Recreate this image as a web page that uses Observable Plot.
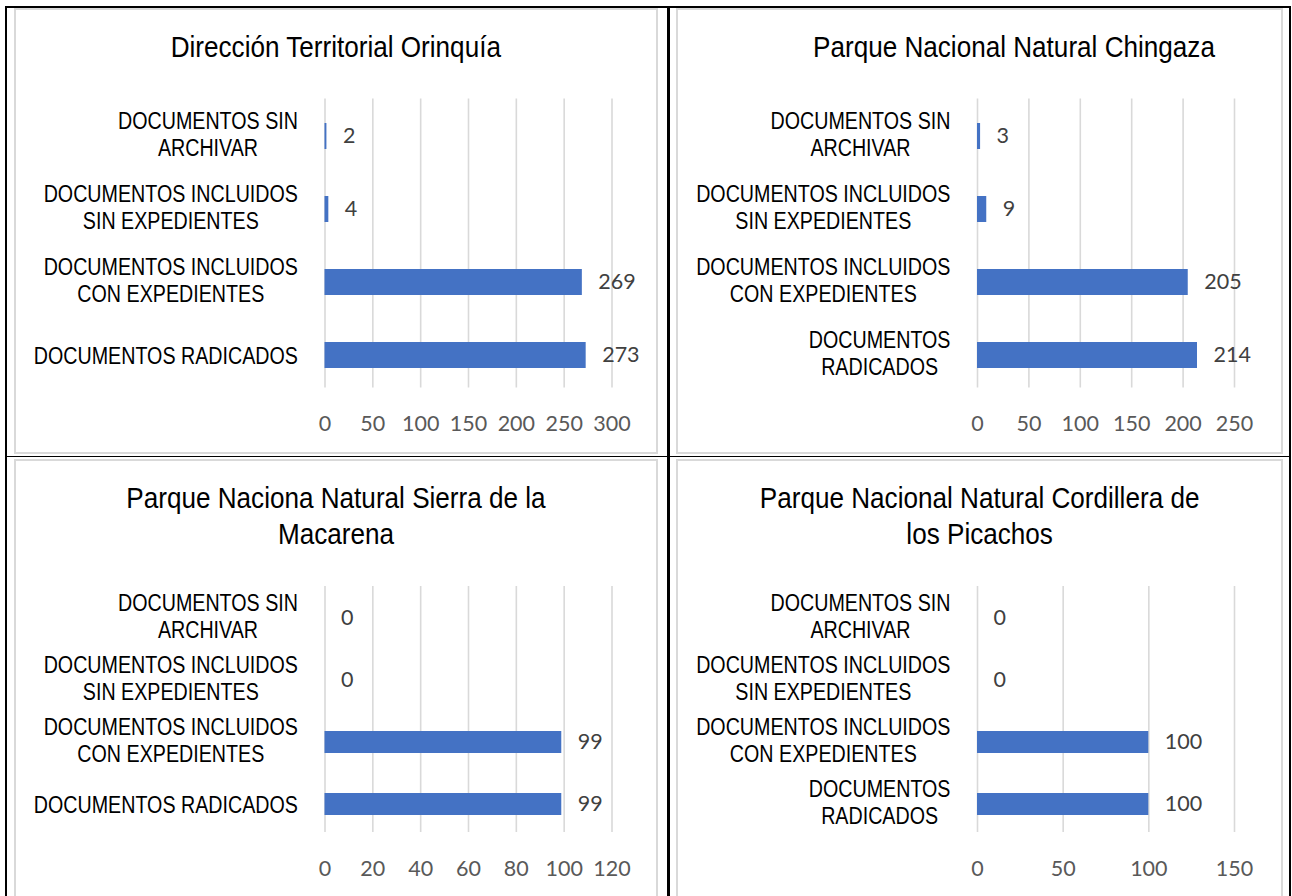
<!DOCTYPE html>
<html>
<head>
<meta charset="utf-8">
<script src="https://cdn.jsdelivr.net/npm/d3@7"></script>
<script src="https://cdn.jsdelivr.net/npm/@observablehq/plot@0.6"></script>
<style>
  html, body { margin: 0; padding: 0; background: #fff; }
  #page { position: relative; width: 1292px; height: 896px; overflow: hidden; background: #fff; }
  .line { position: absolute; background: #000; }
  .box { position: absolute; box-sizing: border-box; border: 2px solid #d9d9d9; }
  .title { position: absolute; text-align: center; color: #000;
           font-family: "Liberation Sans", Arial, sans-serif;
           font-size: 30px; line-height: 36px; }
  .title span { display: inline-block; white-space: pre-line; transform: scaleX(0.87); transform-origin: 50% 50%; }
  .plot { position: absolute; }
  .plot svg { overflow: visible; }
</style>
</head>
<body>
<div id="page"></div>
<script>
// ---------- data ----------
const categories = [
  "DOCUMENTOS SIN ARCHIVAR",
  "DOCUMENTOS INCLUIDOS SIN EXPEDIENTES",
  "DOCUMENTOS INCLUIDOS CON EXPEDIENTES",
  "DOCUMENTOS RADICADOS"
];
const labelsWide = [
  "DOCUMENTOS SIN\nARCHIVAR",
  "DOCUMENTOS INCLUIDOS\nSIN EXPEDIENTES",
  "DOCUMENTOS INCLUIDOS\nCON EXPEDIENTES",
  "DOCUMENTOS RADICADOS"
];
const labelsNarrow = [
  "DOCUMENTOS SIN\nARCHIVAR",
  "DOCUMENTOS INCLUIDOS\nSIN EXPEDIENTES",
  "DOCUMENTOS INCLUIDOS\nCON EXPEDIENTES",
  "DOCUMENTOS\nRADICADOS"
];
const titles = [
  "Dirección Territorial Orinquía",
  "Parque Nacional Natural Chingaza",
  "Parque Naciona Natural Sierra de la\nMacarena",
  "Parque Nacional Natural Cordillera de\nlos Picachos"
];
const valuesOrinoquia = [2, 4, 269, 273];
const valuesChingaza = [3, 9, 205, 214];
const valuesMacarena = [0, 0, 99, 99];
const valuesPicachos = [0, 0, 100, 100];
const ticksOrinoquia = [0, 50, 100, 150, 200, 250, 300];
const ticksChingaza = [0, 50, 100, 150, 200, 250];
const ticksMacarena = [0, 20, 40, 60, 80, 100, 120];
const ticksPicachos = [0, 50, 100, 150];

// ---------- layout / style ----------
const BAR = "#4472C4";
const GRID = "#d9d9d9";
const LABEL_FONT = '"Liberation Sans", Arial, sans-serif';
const NUM_FONT = 'Lato, "Open Sans", sans-serif';
const LABEL_SIZE = 24;
const LABEL_SCALE = 0.82;   // narrow look of the original labels
const NUM_SIZE = 21.5;

const panels = [
  {title: titles[0], values: valuesOrinoquia, ticks: ticksOrinoquia, labels: labelsWide,
   box: {x: 13.5, y: 7.5, w: 644.5, h: 446.5}, x0: 324, x1: 611, yTop: 98, yBot: 392, titleShift: 0},
  {title: titles[1], values: valuesChingaza, ticks: ticksChingaza, labels: labelsNarrow,
   box: {x: 676, y: 7.5, w: 607, h: 446.5}, x0: 977, x1: 1234, yTop: 98, yBot: 392, titleShift: 34},
  {title: titles[2], values: valuesMacarena, ticks: ticksMacarena, labels: labelsWide,
   box: {x: 13.5, y: 458.5, w: 644.5, h: 460}, x0: 324, x1: 611, yTop: 585.5, yBot: 836.5, titleShift: 0},
  {title: titles[3], values: valuesPicachos, ticks: ticksPicachos, labels: labelsNarrow,
   box: {x: 676, y: 458.5, w: 607, h: 460}, x0: 977, x1: 1234, yTop: 585.5, yBot: 836.5, titleShift: 0}
];

const page = document.getElementById("page");

function addDiv(cls, style) {
  const d = document.createElement("div");
  d.className = cls;
  Object.assign(d.style, style);
  page.appendChild(d);
  return d;
}

// text measurement for centring multi-line category labels
const ctx = document.createElement("canvas").getContext("2d");
ctx.font = `${LABEL_SIZE}px ${LABEL_FONT}`;
const measure = s => ctx.measureText(s).width * LABEL_SCALE;

for (const p of panels) {
  addDiv("box", {left: p.box.x + "px", top: p.box.y + "px", width: p.box.w + "px", height: p.box.h + "px"});

  const t = addDiv("title", {left: (p.box.x + p.titleShift) + "px", top: (p.box.y + 21) + "px", width: p.box.w + "px"});
  const span = document.createElement("span");
  span.textContent = p.title;
  t.appendChild(span);

  const data = categories.map((c, i) => ({category: c, value: p.values[i]}));
  const gap = 27;
  const labelMarks = p.labels.map((lab, i) => {
    const w = Math.max(...lab.split("\n").map(measure));
    const multi = lab.includes("\n");
    return Plot.text([categories[i]], {
      y: d => d, text: () => lab, frameAnchor: "left", textAnchor: "middle",
      dx: -(gap + w / 2), dy: multi ? -3 : 0, lineHeight: 1.12,
      fontSize: LABEL_SIZE, fontFamily: LABEL_FONT, fill: "#000"
    });
  });

  const chart = Plot.plot({
    width: p.box.w,
    height: p.box.h,
    marginLeft: p.x0 - p.box.x,
    marginRight: p.box.x + p.box.w - p.x1,
    marginTop: p.yTop - p.box.y,
    marginBottom: p.box.y + p.box.h - p.yBot,
    style: {background: "transparent", overflow: "visible"},
    x: {domain: [p.ticks[0], p.ticks[p.ticks.length - 1]], axis: null, label: null},
    y: {domain: categories, axis: null, label: null, paddingInner: 0.645, paddingOuter: 0.3225},
    marks: [
      Plot.gridX(p.ticks, {stroke: GRID, strokeOpacity: 1, strokeWidth: 1.6, insetBottom: 5}),
      Plot.barX(data, {x: "value", y: "category", fill: BAR}),
      Plot.text(data, {x: "value", y: "category", text: d => String(d.value), dx: 16, textAnchor: "start",
                       fontSize: NUM_SIZE, fontFamily: NUM_FONT, fill: "#404040"}),
      Plot.axisX(p.ticks, {tickSize: 0, tickPadding: 23, fontSize: NUM_SIZE, fontFamily: NUM_FONT,
                           color: "#595959", label: null, tickFormat: d => String(d)}),
      ...labelMarks
    ]
  });

  const holder = addDiv("plot", {left: p.box.x + "px", top: p.box.y + "px"});
  holder.appendChild(chart);

  // horizontally condense category labels (the font-size 24 text groups) about their own centre
  chart.querySelectorAll(`g[font-size="${LABEL_SIZE}"] text, text[font-size="${LABEL_SIZE}"]`).forEach(el => {
    const bb = el.getBBox();
    const cx = bb.x + bb.width / 2;
    const tr = el.getAttribute("transform") || "";
    el.setAttribute("transform", `${tr} translate(${cx},0) scale(${LABEL_SCALE},1) translate(${-cx},0)`);
  });
}

// table lines (black)
addDiv("line", {left: "5px", top: "6px", width: "2px", height: "900px"});
addDiv("line", {left: "5px", top: "6px", width: "1286px", height: "1.5px"});
addDiv("line", {left: "667px", top: "6px", width: "2.5px", height: "900px"});
addDiv("line", {left: "1289.3px", top: "6px", width: "1.7px", height: "900px"});
addDiv("line", {left: "5px", top: "455.7px", width: "1286px", height: "1.5px"});
</script>
</body>
</html>
